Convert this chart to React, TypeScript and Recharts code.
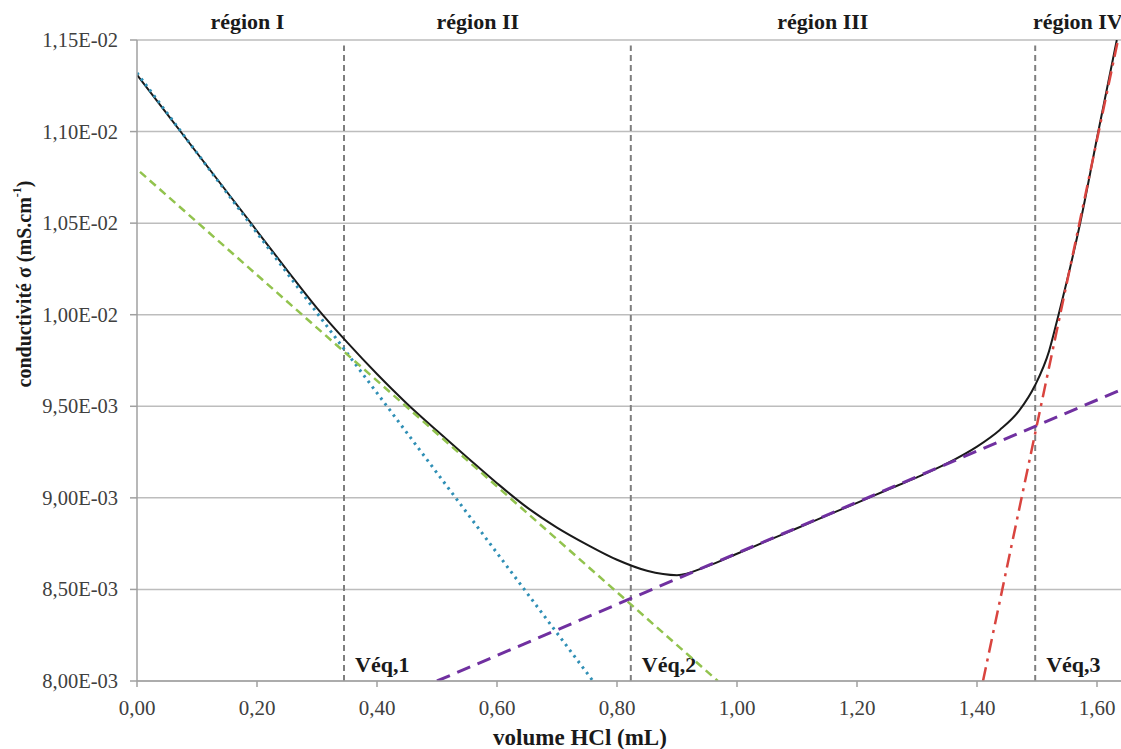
import { LineChart, Line, XAxis, YAxis, CartesianGrid, ReferenceLine, ReferenceDot, Label } from "recharts"

// measured conductivity curve
const volume = [
  0, 0.05, 0.1, 0.15, 0.2, 0.25, 0.3, 0.35, 0.4, 0.45, 0.5, 0.55, 0.6, 0.65, 0.7, 0.75, 0.8, 0.85, 0.9,
  0.95, 1.0, 1.05, 1.1, 1.15, 1.2, 1.25, 1.3, 1.35, 1.4, 1.438, 1.47, 1.497, 1.52, 1.535, 1.572, 1.602, 1.633,
]
const conductivity = [
  0.01131, 0.011097, 0.010883, 0.01067, 0.010457, 0.010244, 0.010036, 0.00985, 0.009676, 0.009514,
  0.009366, 0.009222, 0.00908, 0.008948, 0.008838, 0.008745, 0.008662, 0.008602, 0.008578, 0.008626,
  0.008695, 0.008765, 0.008834, 0.008904, 0.008973, 0.009043, 0.009112, 0.009188, 0.00928, 0.009371,
  0.009475, 0.009616, 0.0098, 0.009988, 0.010501, 0.010998, 0.0115,
]

// linear fits, one per region
const fit1Volume = [0, 0.76]
const fit1Sigma = [0.01132, 0.008]
const fit2Volume = [0.005, 0.968]
const fit2Sigma = [0.01078, 0.008]
const fit3Volume = [0.5, 1.64]
const fit3Sigma = [0.008, 0.00959]
const fit4Volume = [1.41, 1.635]
const fit4Sigma = [0.008, 0.0115]

const equivalenceVolumes = [0.345, 0.823, 1.497]
const equivalenceLabels = ["Véq,1", "Véq,2", "Véq,3"]

const regionNames = ["région I", "région II", "région III", "région IV"]
const regionCenters = [0.184, 0.568, 1.143, 1.568]

const xTicks = [0, 0.2, 0.4, 0.6, 0.8, 1.0, 1.2, 1.4, 1.6]
const yTicks = [0.008, 0.0085, 0.009, 0.0095, 0.01, 0.0105, 0.011, 0.0115]

const FONT = '"Liberation Serif", "DejaVu Serif", serif'
const TICK_COLOR = "#404040"

const toPoints = (xs: number[], ys: number[]) => xs.map((v, i) => ({ v, s: ys[i] }))

const fmtX = (v: number) => v.toFixed(2).replace(".", ",")

const fmtSci = (v: number) => {
  const [m, e] = v.toExponential(2).split("e")
  const n = parseInt(e, 10)
  return `${m.replace(".", ",")}E${n < 0 ? "-" : "+"}${String(Math.abs(n)).padStart(2, "0")}`
}

const XTick = (props: any) => {
  const { x, y, payload } = props
  return (
    <text x={x} y={y + 16} textAnchor="middle" fontFamily={FONT} fontSize={21} fill={TICK_COLOR}>
      {fmtX(payload.value)}
    </text>
  )
}

const YTick = (props: any) => {
  const { x, y, payload } = props
  return (
    <text x={x} y={y + 7} textAnchor="end" fontFamily={FONT} fontSize={20.5} fill={TICK_COLOR}>
      {fmtSci(payload.value)}
    </text>
  )
}

const VeqLabel = (props: any) => {
  const { viewBox, text } = props
  const bottom = Math.max(viewBox.y, viewBox.y + viewBox.height)
  return (
    <text x={viewBox.x + 11} y={bottom - 9} fontFamily={FONT} fontSize={22} fontWeight="bold" fill="#1a1a1a">
      {text}
    </text>
  )
}

const RegionLabel = (props: any) => {
  const { viewBox, text } = props
  const cx = viewBox.x + (viewBox.width || 0) / 2
  return (
    <text x={cx} y={29} textAnchor="middle" fontFamily={FONT} fontSize={22} fontWeight="bold" fill="#1a1a1a">
      {text}
    </text>
  )
}

export default function App() {
  const measured = toPoints(volume, conductivity)
  const fits = [
    { data: toPoints(fit1Volume, fit1Sigma), color: "#2f8fb5", dash: "2.5 4.5", width: 3 },
    { data: toPoints(fit2Volume, fit2Sigma), color: "#92c34e", dash: "8 5", width: 2.5 },
    { data: toPoints(fit3Volume, fit3Sigma), color: "#7030a0", dash: "14 8", width: 3 },
    { data: toPoints(fit4Volume, fit4Sigma), color: "#d9443f", dash: "14 6 3 6", width: 2.5 },
  ]

  return (
    <div
      style={{
        position: "absolute",
        left: 0,
        top: 0,
        width: 1121,
        height: 749,
        overflow: "hidden",
        background: "#fff",
        fontFamily: FONT,
      }}
    >
      <LineChart width={1121} height={749} margin={{ top: 40, right: 0, bottom: 0, left: 0 }}>
        <CartesianGrid vertical={false} stroke="#bdbdbd" strokeWidth={1.5} />
        <XAxis
          dataKey="v"
          type="number"
          domain={[0, 1.64]}
          ticks={xTicks}
          interval={0}
          height={68}
          tickSize={6}
          tickMargin={12}
          stroke="#a0a0a0"
          strokeWidth={1.5}
          tick={<XTick />}
          allowDataOverflow
        >
          <Label
            content={() => (
              <text x={580} y={745} textAnchor="middle" fontFamily={FONT} fontSize={23} fontWeight="bold" fill="#1a1a1a">
                volume HCl (mL)
              </text>
            )}
          />
        </XAxis>
        <YAxis
          type="number"
          domain={[0.008, 0.0115]}
          ticks={yTicks}
          interval={0}
          width={137}
          tickSize={7}
          tickMargin={12}
          stroke="#a0a0a0"
          strokeWidth={1.5}
          tick={<YTick />}
          allowDataOverflow
        >
          <Label
            content={() => (
              <text
                transform="translate(24,284) rotate(-90)"
                textAnchor="middle"
                dominantBaseline="central"
                fontFamily={FONT}
                fontSize={20}
                fontWeight="bold"
                fill="#1a1a1a"
              >
                conductivité σ (mS.cm
                <tspan baselineShift="super" fontSize={12}>-1</tspan>)
              </text>
            )}
          />
        </YAxis>

        {regionCenters.map((v, i) => (
          <ReferenceDot
            key={`region-${i}`}
            x={v}
            y={0.0115}
            r={0}
            fill="none"
            stroke="none"
            ifOverflow="visible"
            label={<RegionLabel text={regionNames[i]} />}
          />
        ))}

        {equivalenceVolumes.map((v, i) => (
          <ReferenceLine
            key={`veq-${i}`}
            segment={[
              { x: v, y: 0.008 },
              { x: v, y: 0.01147 },
            ]}
            stroke="#7f7f7f"
            strokeWidth={2}
            strokeDasharray="6 4"
            label={<VeqLabel text={equivalenceLabels[i]} />}
          />
        ))}

        <Line
          data={measured}
          dataKey="s"
          type="monotone"
          stroke="#1a1a1a"
          strokeWidth={2}
          dot={false}
          activeDot={false}
          isAnimationActive={false}
        />
        {fits.map((f, i) => (
          <Line
            key={`fit-${i}`}
            data={f.data}
            dataKey="s"
            type="linear"
            stroke={f.color}
            strokeWidth={f.width}
            strokeDasharray={f.dash}
            dot={false}
            activeDot={false}
            isAnimationActive={false}
          />
        ))}
      </LineChart>
    </div>
  )
}
